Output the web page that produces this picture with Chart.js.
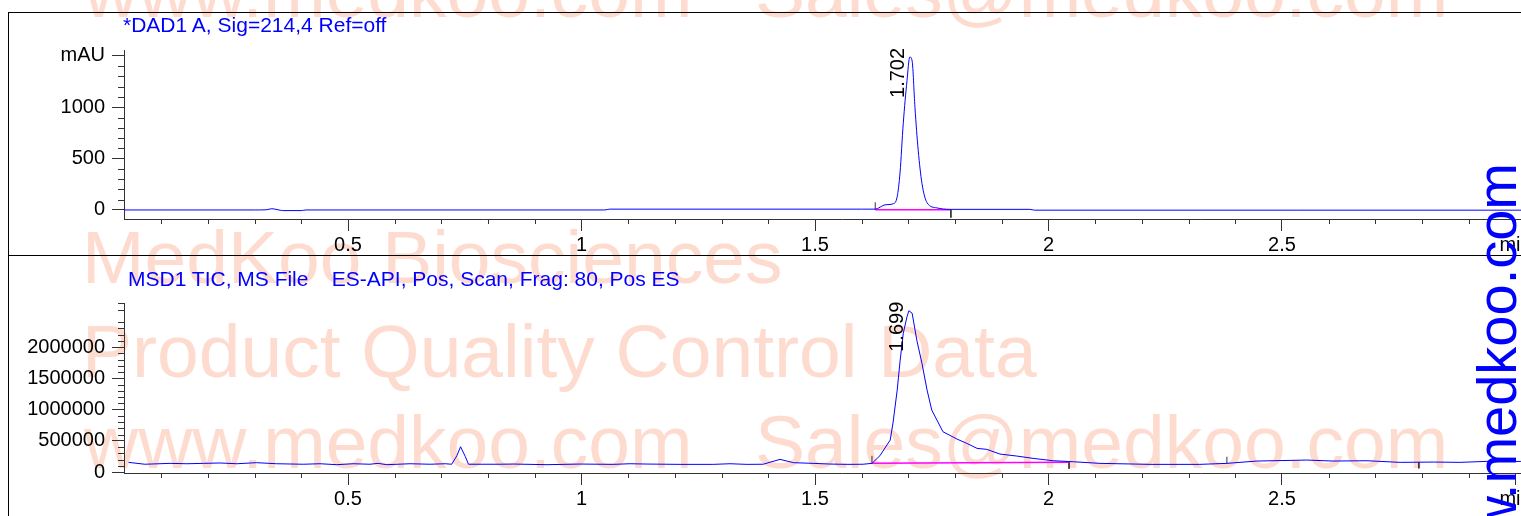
<!DOCTYPE html>
<html><head><meta charset="utf-8">
<script src="https://cdn.jsdelivr.net/npm/chart.js@4/dist/chart.umd.min.js"></script>
<style>
html,body{margin:0;padding:0;background:#fff;}
body{width:1521px;height:516px;overflow:hidden;position:relative;font-family:"Liberation Sans",Arial,sans-serif;}
.wm{position:absolute;font-size:75px;line-height:75px;color:rgb(254,219,207);white-space:pre;z-index:0;}
canvas{position:absolute;left:0;z-index:1;}
.ttl{position:absolute;font-size:21px;line-height:21px;color:#0000ff;white-space:pre;z-index:2;}
.ln{position:absolute;background:#000;z-index:2;}
#vt{position:absolute;left:1469px;top:763px;width:600px;text-align:right;font-size:56px;line-height:56px;color:#0000ff;white-space:pre;transform-origin:0 0;transform:rotate(-90deg);z-index:3;}
</style></head>
<body>
<div class="wm" style="left:84px;top:-46px;">www.medkoo.com   Sales@medkoo.com</div>
<div class="wm" style="left:82px;top:220px;">MedKoo Biosciences</div>
<div class="wm" style="left:82px;top:314px;">Product Quality Control Data</div>
<div class="wm" style="left:84px;top:405px;">www.medkoo.com   Sales@medkoo.com</div>

<canvas id="c1" width="1560" height="255" style="top:0;width:1560px;height:255px;"></canvas>
<canvas id="c2" width="1560" height="261" style="top:255px;width:1560px;height:261px;"></canvas>

<div class="ttl" style="left:123px;top:14px;">*DAD1 A, Sig=214,4 Ref=off</div>
<div class="ttl" style="left:128px;top:268px;">MSD1 TIC, MS File    ES-API, Pos, Scan, Frag: 80, Pos ES</div>

<div class="ln" style="left:8px;top:12px;width:1513px;height:1px;"></div>
<div class="ln" style="left:8px;top:12px;width:1px;height:504px;"></div>
<div class="ln" style="left:8px;top:255px;width:1513px;height:1px;"></div>

<div id="vt">www.medkoo.com</div>

<script>
// ---- data ----
const timeTicks = [0.5, 1, 1.5, 2, 2.5, 3];
const timeTickLabels = ['0.5', '1', '1.5', '2', '2.5', 'min'];
const timeRange = [0.0203, 3.0953];

const dadTicks = [0, 500, 1000, 1500];
const dadTickLabels = ['0', '500', '1000', 'mAU'];
const dadRange = [-88, 1558];

const msdTicks = [0, 500000, 1000000, 1500000, 2000000];
const msdTickLabels = ['0', '500000', '1000000', '1500000', '2000000'];
const msdRange = [-15000, 2704000];

const dadTime = [0.020, 0.300, 0.325, 0.337, 0.350, 0.360, 0.400, 0.410, 1.050, 1.060, 1.600, 1.629, 1.650, 1.667, 1.676, 1.682, 1.689, 1.697, 1.703, 1.708, 1.714, 1.721, 1.729, 1.740, 1.761, 1.789, 1.960, 1.970, 3.095];
const dadValue = [0, 0, 2, 12, 2, -6, -6, 0, 0, 8, 8, 8, 50, 60, 130, 360, 845, 1260, 1490, 1450, 1000, 580, 260, 70, 20, 6, 6, -2, -2];

const msdTime = [0.030, 0.065, 0.119, 0.155, 0.190, 0.226, 0.262, 0.304, 0.347, 0.404, 0.440, 0.476, 0.511, 0.547, 0.564, 0.583, 0.633, 0.676, 0.708, 0.722, 0.733, 0.741, 0.751, 0.758, 0.825, 0.854, 0.926, 0.997, 1.068, 1.104, 1.140, 1.211, 1.282, 1.318, 1.354, 1.389, 1.425, 1.454, 1.496, 1.532, 1.568, 1.603, 1.622, 1.639, 1.661, 1.667, 1.676, 1.682, 1.689, 1.697, 1.701, 1.708, 1.718, 1.729, 1.740, 1.750, 1.774, 1.804, 1.825, 1.847, 1.868, 1.896, 1.932, 1.967, 2.010, 2.053, 2.110, 2.217, 2.324, 2.382, 2.446, 2.553, 2.609, 2.682, 2.753, 2.824, 2.881, 2.939, 3.010, 3.095];
const msdValue = [155000, 125000, 139000, 133000, 139000, 145000, 133000, 150000, 133000, 125000, 133000, 118000, 133000, 125000, 139000, 118000, 133000, 125000, 133000, 125000, 260000, 405000, 250000, 125000, 125000, 128000, 118000, 128000, 123000, 133000, 128000, 123000, 123000, 133000, 123000, 125000, 203000, 150000, 139000, 128000, 123000, 125000, 139000, 261000, 512000, 784000, 1310000, 1765000, 2220000, 2485000, 2580000, 2540000, 2110000, 1740000, 1310000, 992000, 645000, 528000, 459000, 379000, 363000, 288000, 256000, 219000, 181000, 165000, 139000, 123000, 123000, 139000, 176000, 192000, 176000, 181000, 155000, 160000, 155000, 171000, 170000, 170000];

// integration baselines
const dadBaseTime = [1.629, 1.789];
const dadBaseValue = [3, 3];
const msdBaseTime = [1.622, 2.044];
const msdBaseValue = [140000, 158000];

// peak event markers: time, from, to
const dadEventTime = [1.629, 1.791];
const dadEventFrom = [3, 3];
const dadEventTo = [75, -75];
const msdEventTime = [1.622, 2.044, 2.382, 2.793];
const msdEventFrom = [139000, 160000, 139000, 155000];
const msdEventTo = [260000, 53000, 245000, 59000];

// peak labels
const dadPeak = {time: 1.702, value: 1490, label: '1.702'};
const msdPeak = {time: 1.699, value: 2580000, label: '1.699'};

// ---- drawing ----
const FONT = '"Liberation Sans", Arial, sans-serif';
const AXIS = '#333';

function isMajor(v, major) { return Math.abs(v / major - Math.round(v / major)) < 1e-6; }

const extrasPlugin = {
  id: 'extras',
  afterDraw(chart, args, o) {
    const {ctx, chartArea} = chart;
    const xs = chart.scales.x, ys = chart.scales.y;
    ctx.save();
    ctx.strokeStyle = AXIS; ctx.lineWidth = 1;
    ctx.beginPath();
    for (let k = Math.ceil(xs.min / o.xStep); k * o.xStep <= xs.max + 1e-9; k++) {
      const v = k * o.xStep;
      if (isMajor(v, o.xMajor)) continue;
      const px = Math.round(xs.getPixelForValue(v)) + 0.5;
      ctx.moveTo(px, chartArea.bottom); ctx.lineTo(px, chartArea.bottom + 5);
    }
    for (let k = Math.ceil(ys.min / o.yStep); k * o.yStep <= ys.max + 1e-9; k++) {
      const v = k * o.yStep;
      if (isMajor(v, o.yMajor)) continue;
      const py = Math.round(ys.getPixelForValue(v)) + 0.5;
      ctx.moveTo(chartArea.left, py); ctx.lineTo(chartArea.left - 6, py);
    }
    ctx.stroke();
    // peak label
    const p = o.peak;
    const px = xs.getPixelForValue(p.time), py = ys.getPixelForValue(p.value);
    ctx.translate(px - 5, py + 41);
    ctx.rotate(-Math.PI / 2);
    ctx.font = '20px ' + FONT;
    ctx.fillStyle = '#000';
    ctx.textAlign = 'left'; ctx.textBaseline = 'alphabetic';
    ctx.fillText(p.label, 0, 0);
    ctx.restore();
  }
};

function pts(t, v) { return t.map((x, i) => ({x: x, y: v[i]})); }

function makeChart(id, cfg) {
  const datasets = [
    {data: pts(cfg.time, cfg.value), borderColor: '#0000ff', borderWidth: 1, pointRadius: 0,
     cubicInterpolationMode: cfg.smooth ? 'monotone' : 'default', tension: 0, order: 0},
    {data: pts(cfg.baseTime, cfg.baseValue), borderColor: '#ff00ff', borderWidth: 1.5, pointRadius: 0, order: 1}
  ];
  cfg.evTime.forEach((t, i) => {
    datasets.push({data: [{x: t, y: cfg.evFrom[i]}, {x: t, y: cfg.evTo[i]}], borderColor: AXIS, borderWidth: 1, pointRadius: 0, order: 2});
  });
  return new Chart(document.getElementById(id), {
    type: 'line',
    data: {datasets},
    options: {
      responsive: false, animation: false, events: [],
      layout: {padding: {top: cfg.padTop, left: 0, right: 0, bottom: 0}},
      plugins: {legend: {display: false}, tooltip: {enabled: false},
        extras: {xStep: 0.1, xMajor: 0.5, yStep: cfg.yStep, yMajor: cfg.yMajor, peak: cfg.peak}},
      scales: {
        x: {type: 'linear', min: timeRange[0], max: timeRange[1],
          afterBuildTicks: s => { s.ticks = timeTicks.map(v => ({value: v})); },
          ticks: {autoSkip: false, maxRotation: 0, padding: 2, color: '#000', font: {family: FONT, size: 20},
            callback: (v, i) => timeTickLabels[i]},
          grid: {display: true, drawOnChartArea: false, drawTicks: true, tickLength: 12, tickColor: AXIS, tickWidth: 1},
          border: {display: true, color: AXIS, width: 1},
          afterFit: s => { s.height = cfg.xHeight; }
        },
        y: {type: 'linear', min: cfg.yRange[0], max: cfg.yRange[1],
          afterBuildTicks: s => { s.ticks = cfg.yTicks.map(v => ({value: v})); },
          ticks: {autoSkip: false, padding: 7, color: '#000', font: {family: FONT, size: 20},
            callback: (v, i) => cfg.yLabels[i]},
          grid: {display: true, drawOnChartArea: false, drawTicks: true, tickLength: 12, tickColor: AXIS, tickWidth: 1},
          border: {display: true, color: AXIS, width: 1},
          afterFit: s => { s.width = 124; }
        }
      }
    },
    plugins: [extrasPlugin]
  });
}

makeChart('c1', {time: dadTime, value: dadValue, smooth: true, baseTime: dadBaseTime, baseValue: dadBaseValue,
  evTime: dadEventTime, evFrom: dadEventFrom, evTo: dadEventTo, padTop: 50, xHeight: 36,
  yRange: dadRange, yTicks: dadTicks, yLabels: dadTickLabels, yStep: 100, yMajor: 500, peak: dadPeak});
makeChart('c2', {time: msdTime, value: msdValue, smooth: false, baseTime: msdBaseTime, baseValue: msdBaseValue,
  evTime: msdEventTime, evFrom: msdEventFrom, evTo: msdEventTo, padTop: 48, xHeight: 43,
  yRange: msdRange, yTicks: msdTicks, yLabels: msdTickLabels, yStep: 100000, yMajor: 500000, peak: msdPeak});
</script>
</body></html>
